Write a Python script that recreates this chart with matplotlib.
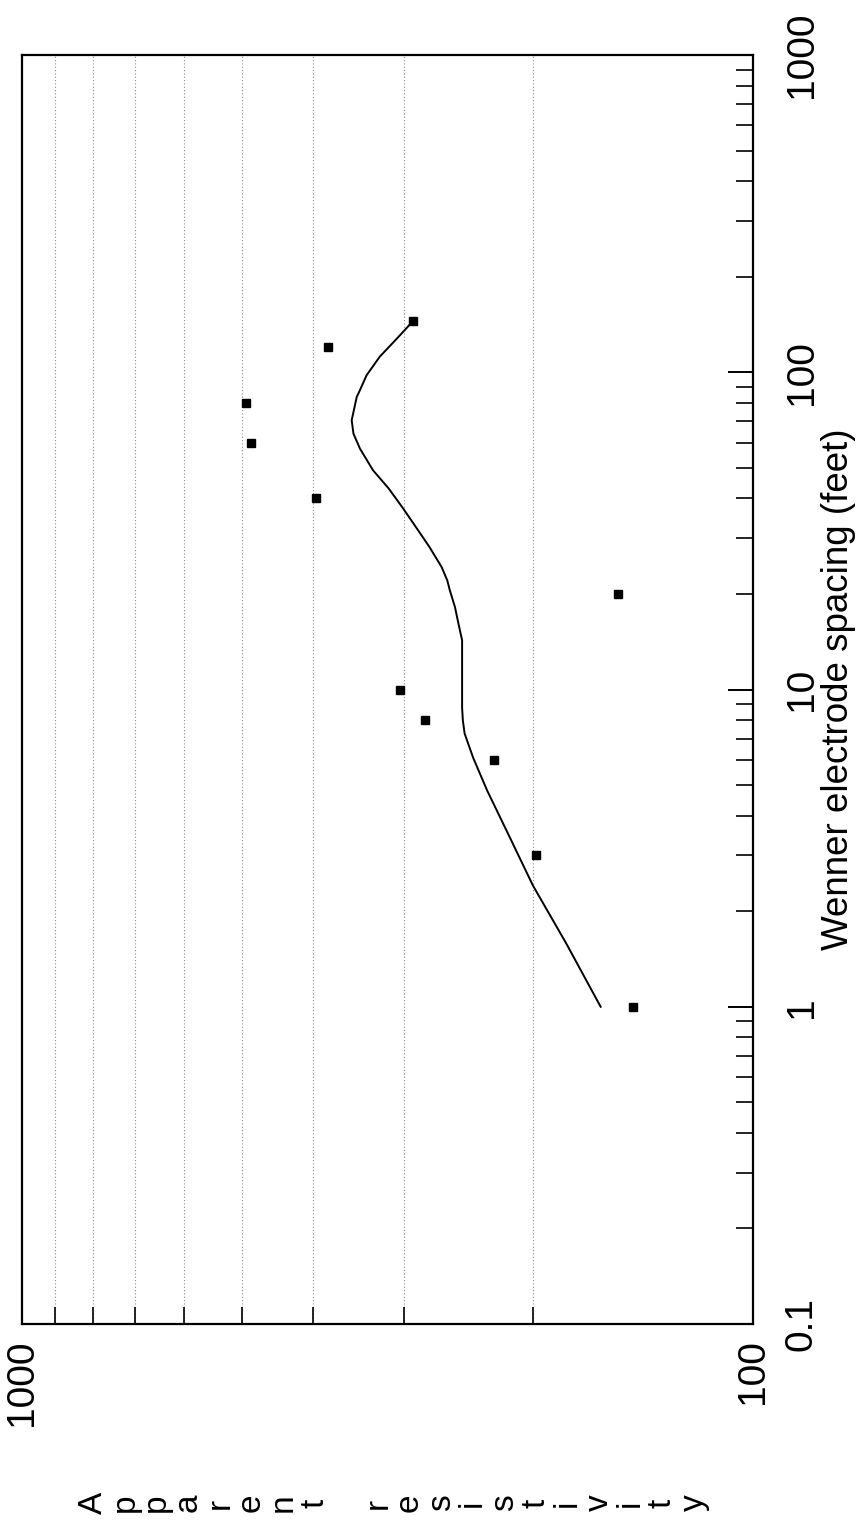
import numpy as np
import matplotlib
matplotlib.use('Agg')
import matplotlib.pyplot as plt

plt.rcParams['font.family'] = ['Liberation Sans', 'DejaVu Sans']

# measured Wenner soundings (spacing in feet, apparent resistivity)
spacing = [1, 3, 6, 8, 10, 20, 40, 60, 80, 120, 145]
resistivity = [146, 198, 226, 281, 304, 153, 396, 486, 494, 381, 292]

# smooth model curve
curve_spacing = [1.0, 1.58, 2.41, 3.41, 4.8, 6.1, 7.26, 7.98, 8.77, 14.3, 16.2, 18.2,
                 20.5, 22.1, 24.3, 28.1, 31.7, 37.2, 43.0, 49.1, 57.4, 64.0, 70.6,
                 83.6, 87.7, 97.8, 112, 127.7, 138.7, 145]
curve_rho = [161.6, 180, 200, 215, 231, 241.5, 248, 249.4, 250, 250, 253, 255.7,
             259.8, 262, 266.6, 277, 287, 301, 315, 331, 344.8, 352, 354,
             348.4, 345, 337.8, 324, 307, 297, 292]

spacing_ticks = [0.1, 1, 10, 100, 1000]
spacing_labels = ['0.1', '1', '10', '100', '1000']
rho_ticks = [100, 1000]
rho_labels = ['100', '1000']
ylabel_letters = 'Apparent resistivity'

fig = plt.figure(figsize=(8.61, 15.26), dpi=100)
ax = fig.add_axes([22 / 861, 1 - 1324 / 1526, 731 / 861, 1269 / 1526])

# the sheet is turned on its side: resistivity runs right-to-left, spacing bottom-to-top
ax.plot(curve_rho, curve_spacing, color='black', lw=1.4, solid_joinstyle='round')
ax.plot(resistivity, spacing, 's', color='black', ms=5.8)

ax.set_xscale('log')
ax.set_yscale('log')
ax.set_xlim(1000, 100)
ax.set_ylim(0.1, 1000)

ax.set_xticks(rho_ticks)
ax.set_xticklabels(rho_labels, rotation=90, fontsize=28)
ax.set_xticks([m * 100 for m in range(2, 10)], minor=True)
ax.xaxis.set_minor_formatter(matplotlib.ticker.NullFormatter())

ax.yaxis.tick_right()
ax.set_yticks(spacing_ticks)
ax.set_yticklabels(spacing_labels, rotation=90, fontsize=28, va='center')
minor_y = [m * d for d in [0.1, 1, 10, 100] for m in range(2, 10)]
ax.set_yticks(minor_y, minor=True)
ax.yaxis.set_minor_formatter(matplotlib.ticker.NullFormatter())

ax.tick_params(axis='x', which='both', direction='in', bottom=True, top=False, pad=11)
ax.tick_params(axis='x', which='major', length=0)
ax.tick_params(axis='x', which='minor', length=12, width=1.2)
ax.tick_params(axis='y', which='both', direction='in', right=True, left=False, pad=22)
ax.tick_params(axis='y', which='major', length=18, width=1.4)
ax.tick_params(axis='y', which='minor', length=12, width=1.2)

ax.grid(which='minor', axis='x', linestyle=(0, (1, 2)), color='#888888', lw=0.8)

for s in ax.spines.values():
    s.set_linewidth(1.6)

ax.yaxis.set_label_position('right')
ax.set_ylabel('Wenner electrode spacing (feet)', fontsize=26.5, rotation=90)
ax.yaxis.set_label_coords((821 - 22) / 731, 0.5)

# stacked y-label letters, now lying along the bottom
for i, ch in enumerate(ylabel_letters):
    if ch == ' ':
        continue
    fig.text((102 + 31.6 * i) / 861, 1 - 1503 / 1526, ch, rotation=90,
             rotation_mode='anchor', ha='center', va='baseline', fontsize=24)

fig.savefig('out.png', dpi=100)
